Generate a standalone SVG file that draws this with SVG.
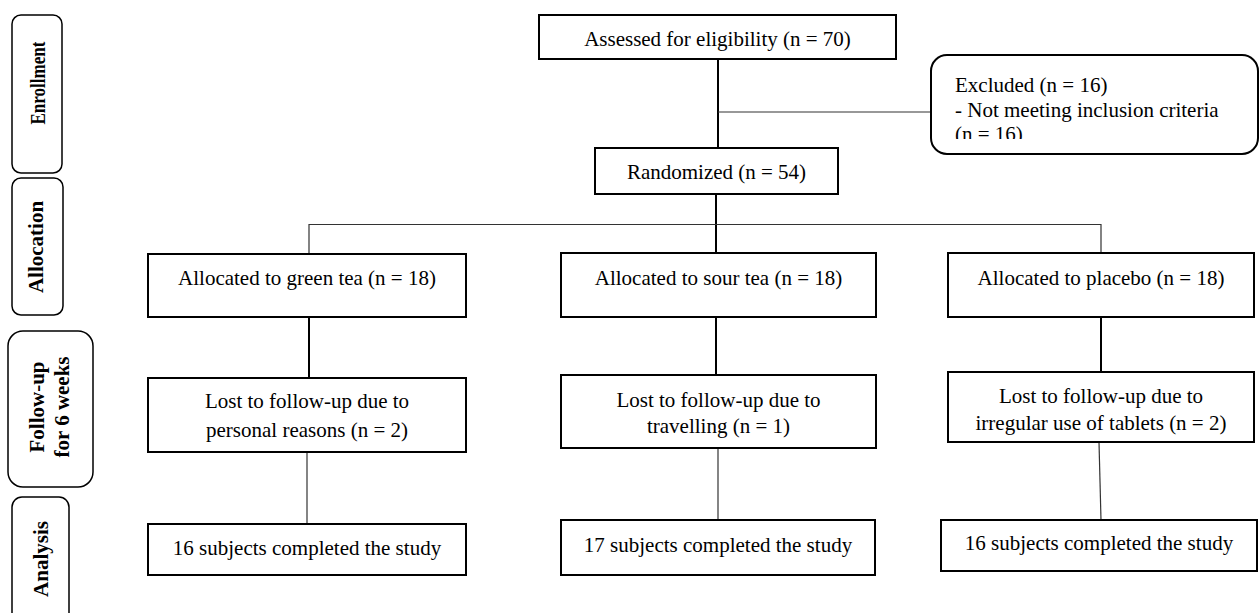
<svg xmlns="http://www.w3.org/2000/svg" width="1260" height="613" viewBox="0 0 1260 613">
<style>
.box{fill:#fff;stroke:#000;stroke-width:2}
.side{fill:#fff;stroke:#000;stroke-width:1.5}
.t{font-family:"Liberation Serif","Times New Roman",serif;font-size:21px;fill:#000}
.c{text-anchor:middle}
.b{font-weight:bold;text-anchor:middle}
.ln{stroke:#000;stroke-width:2;fill:none}
.thin{stroke:#333;stroke-width:1.2;fill:none}
</style>
<defs>
<clipPath id="exclClip"><rect x="932" y="57" width="324" height="82"/></clipPath>
</defs>
<rect width="1260" height="613" fill="#fff"/>
<g id="connectors">
<line class="ln" x1="718" y1="59" x2="718" y2="148"/>
<line class="thin" x1="718" y1="112" x2="931" y2="112"/>
<line class="ln" x1="716" y1="194" x2="716" y2="253"/>
<polyline class="thin" points="309,254 309,224.5 1101,224.5 1101,253"/>
<line class="ln" x1="309" y1="317" x2="309" y2="378"/>
<line class="ln" x1="716" y1="317" x2="716" y2="375"/>
<line class="ln" x1="1101" y1="317" x2="1101" y2="372"/>
<line class="thin" x1="307" y1="452" x2="307" y2="524"/>
<line class="thin" x1="718" y1="448" x2="718" y2="520"/>
<line class="thin" x1="1099" y1="442" x2="1101" y2="520"/>
</g>
<g id="label-enrollment">
<rect class="side" x="12" y="15" width="50" height="158" rx="9"/>
<text class="t b" transform="translate(45,83) rotate(-90)" textLength="83" lengthAdjust="spacingAndGlyphs">Enrollment</text>
</g>
<g id="label-allocation">
<rect class="side" x="12" y="178" width="51" height="137" rx="9"/>
<text class="t b" transform="translate(43,247) rotate(-90)">Allocation</text>
</g>
<g id="label-followup">
<rect class="side" x="8" y="331" width="85" height="156" rx="15"/>
<text class="t b" transform="translate(44,407) rotate(-90)">Follow-up</text>
<text class="t b" transform="translate(69,407) rotate(-90)">for 6 weeks</text>
</g>
<g id="label-analysis">
<rect class="side" x="12" y="497" width="57" height="130" rx="10"/>
<text class="t b" transform="translate(48,559) rotate(-90)">Analysis</text>
</g>
<g id="assessed">
<rect class="box" x="539" y="15" width="357" height="44"/>
<text class="t c" x="717.5" y="46">Assessed for eligibility (n = 70)</text>
</g>
<g id="excluded">
<rect class="box" x="931" y="55" width="327" height="99" rx="16"/>
<g clip-path="url(#exclClip)">
<text class="t" x="955" y="92">Excluded (n = 16)</text>
<text class="t" x="955" y="117">- Not meeting inclusion criteria</text>
<text class="t" x="955" y="141">(n = 16)</text>
</g>
</g>
<g id="randomized">
<rect class="box" x="595" y="148" width="243" height="46"/>
<text class="t c" x="716.5" y="179">Randomized (n = 54)</text>
</g>
<g id="alloc-green">
<rect class="box" x="148" y="254" width="318" height="63"/>
<text class="t c" x="307" y="285">Allocated to green tea (n = 18)</text>
</g>
<g id="alloc-sour">
<rect class="box" x="561" y="253" width="315" height="64"/>
<text class="t c" x="718.5" y="285">Allocated to sour tea (n = 18)</text>
</g>
<g id="alloc-placebo">
<rect class="box" x="948" y="253" width="306" height="64"/>
<text class="t c" x="1101" y="285">Allocated to placebo (n = 18)</text>
</g>
<g id="lost-green">
<rect class="box" x="148" y="378" width="318" height="74"/>
<text class="t c" x="307" y="408">Lost to follow-up due to</text>
<text class="t c" x="307" y="437">personal reasons (n = 2)</text>
</g>
<g id="lost-sour">
<rect class="box" x="561" y="375" width="315" height="73"/>
<text class="t c" x="718.5" y="407">Lost to follow-up due to</text>
<text class="t c" x="718.5" y="433">travelling (n = 1)</text>
</g>
<g id="lost-placebo">
<rect class="box" x="948" y="372" width="306" height="70"/>
<text class="t c" x="1101" y="403">Lost to follow-up due to</text>
<text class="t c" x="1101" y="430">irregular use of tablets (n = 2)</text>
</g>
<g id="done-green">
<rect class="box" x="148" y="524" width="318" height="51"/>
<text class="t c" x="307" y="555">16 subjects completed the study</text>
</g>
<g id="done-sour">
<rect class="box" x="561" y="520" width="314" height="55"/>
<text class="t c" x="718" y="552">17 subjects completed the study</text>
</g>
<g id="done-placebo">
<rect class="box" x="941" y="520" width="316" height="51"/>
<text class="t c" x="1099" y="550">16 subjects completed the study</text>
</g>
</svg>
